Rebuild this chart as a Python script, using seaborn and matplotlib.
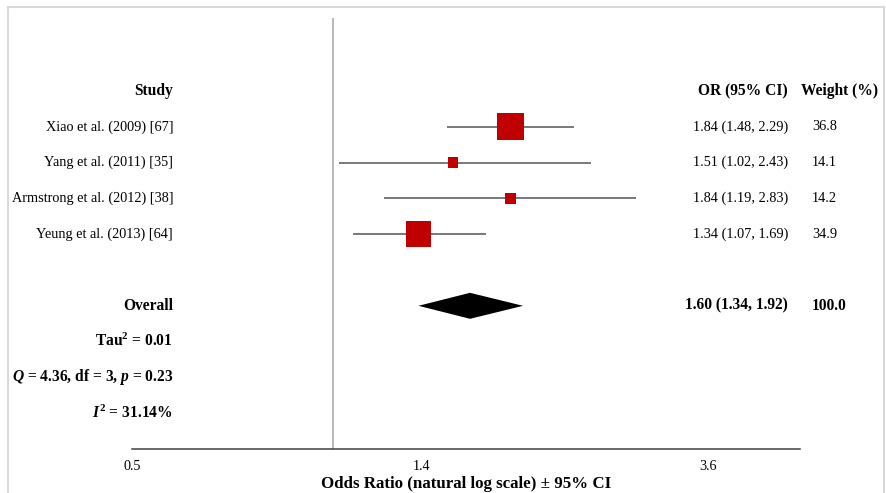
import matplotlib
matplotlib.use("Agg")
import matplotlib.pyplot as plt
from matplotlib.patches import Rectangle
from matplotlib.ticker import NullLocator
import seaborn as sns
import numpy as np
import pandas as pd

# ---------------- data ----------------
studies = ["Xiao et al. (2009) [67]", "Yang et al. (2011) [35]",
           "Armstrong et al. (2012) [38]", "Yeung et al. (2013) [64]"]
or_vals = [1.84, 1.51, 1.84, 1.34]
ci_low = [1.48, 1.02, 1.19, 1.07]
ci_high = [2.29, 2.43, 2.83, 1.69]
weights = [36.8, 14.1, 14.2, 34.9]

overall_or = 1.60
overall_low = 1.34
overall_high = 1.92
overall_weight = 100.0

tau2 = 0.01
q_stat = 4.36
q_df = 3
q_p = 0.23
i2 = 31.14

tick_values = [0.5, 1.355, 3.63]
tick_labels = ["0.5", "1.4", "3.6"]

# ---------------- style ----------------
sns.set_theme(style="white", rc={"text.color": "black", "axes.labelcolor": "black",
                                 "xtick.color": "#404040", "axes.edgecolor": "#404040"})
plt.rcParams['font.family'] = ['Liberation Serif', 'DejaVu Serif']
plt.rcParams['mathtext.fontset'] = 'custom'
plt.rcParams['mathtext.rm'] = 'Liberation Serif:bold'
plt.rcParams['mathtext.it'] = 'Liberation Serif:bold:italic'
plt.rcParams['mathtext.bf'] = 'Liberation Serif:bold'

W, H = 886, 493
fig = plt.figure(figsize=(W / 100, H / 100), dpi=100)
fig.patch.set_facecolor("white")
ax = fig.add_axes([132 / W, 1 - 449 / H, 668 / W, 431 / H])

df = pd.DataFrame(dict(study=studies, OR=or_vals, lo=ci_low, hi=ci_high, w=weights))
df["row"] = np.arange(1, len(df) + 1)
overall_row = len(df) + 2

ax.set_xscale("log")
ax.set_xlim(0.5, 4.98)
ax.set_ylim(10.0, -2.04)

# reference line at OR = 1
ax.axvline(1.0, color="#a6a6a6", lw=1.1, zorder=1)
# confidence intervals
ax.hlines(df["row"], df["lo"], df["hi"], color="#555555", lw=1.1, zorder=2)
# study squares (side proportional to weight)
sns.scatterplot(data=df, x="OR", y="row", marker="s", s=(0.529 * df["w"]) ** 2,
                color="#c00000", linewidth=0, ax=ax, zorder=3, legend=False)
# overall diamond
dh = 0.363
ax.fill([overall_low, overall_or, overall_high, overall_or],
        [overall_row, overall_row - dh, overall_row, overall_row + dh],
        color="black", lw=0, zorder=3)

# axes styling
ax.set_xticks(tick_values, tick_labels)
ax.xaxis.set_minor_locator(NullLocator())
ax.set_yticks([])
ax.set_ylabel("")
ax.tick_params(axis="x", direction="out", length=3, width=1.0, labelsize=10.2, pad=5,
               labelcolor="black")
sns.despine(ax=ax, left=True)
ax.spines["bottom"].set_linewidth(1.1)
ax.spines["bottom"].set_color("#404040")
ax.set_xlabel("Odds Ratio (natural log scale) ± 95% CI", fontweight="bold",
              fontsize=12.2, labelpad=2)

# ---------------- text columns ----------------
tr = ax.get_yaxis_transform()
x_study = (173 - 132) / 668
x_or = (788 - 132) / 668
x_w = (812 - 132) / 668
x_wh = (801 - 132) / 668
fs_r, fs_b = 10.3, 11.2

ax.text(x_study, 0, "Study", ha="right", va="center", fontweight="bold", fontsize=fs_b,
        transform=tr, clip_on=False)
ax.text(x_or, 0, "OR (95% CI)", ha="right", va="center", fontweight="bold", fontsize=fs_b,
        transform=tr, clip_on=False)
ax.text(x_wh, 0, "Weight (%)", ha="left", va="center", fontweight="bold", fontsize=fs_b,
        transform=tr, clip_on=False)

for _, r in df.iterrows():
    ax.text(x_study, r["row"], r["study"], ha="right", va="center", fontsize=fs_r,
            transform=tr, clip_on=False)
    ax.text(x_or, r["row"], f"{r['OR']:.2f} ({r['lo']:.2f}, {r['hi']:.2f})", ha="right",
            va="center", fontsize=fs_r, transform=tr, clip_on=False)
    ax.text(x_w, r["row"], f"{r['w']:.1f}", ha="left", va="center", fontsize=fs_r,
            transform=tr, clip_on=False)

ax.text(x_study, overall_row, "Overall", ha="right", va="center", fontweight="bold",
        fontsize=fs_b, transform=tr, clip_on=False)
ax.text(x_or, overall_row, f"{overall_or:.2f} ({overall_low:.2f}, {overall_high:.2f})",
        ha="right", va="center", fontweight="bold", fontsize=fs_b, transform=tr, clip_on=False)
ax.text(x_w, overall_row, f"{overall_weight:.1f}", ha="left", va="center", fontweight="bold",
        fontsize=fs_b, transform=tr, clip_on=False)

stats = [f"Tau$^2$ = {tau2:.2f}",
         f"$Q$ = {q_stat:.2f}, df = {q_df}, $p$ = {q_p:.2f}",
         f"$I^2$ = {i2:.2f}%"]
for k, s in enumerate(stats):
    ax.text(x_study, overall_row + 1 + k, s, ha="right", va="center", fontweight="bold",
            fontsize=fs_b, transform=tr, clip_on=False)

# outer light border
fig.patches.append(Rectangle((8 / W, -0.05), 876 / W, (H - 7) / H + 0.05,
                             transform=fig.transFigure, fill=False,
                             edgecolor="#d9d9d9", lw=1.5))

fig.savefig("out.png", dpi=100)
